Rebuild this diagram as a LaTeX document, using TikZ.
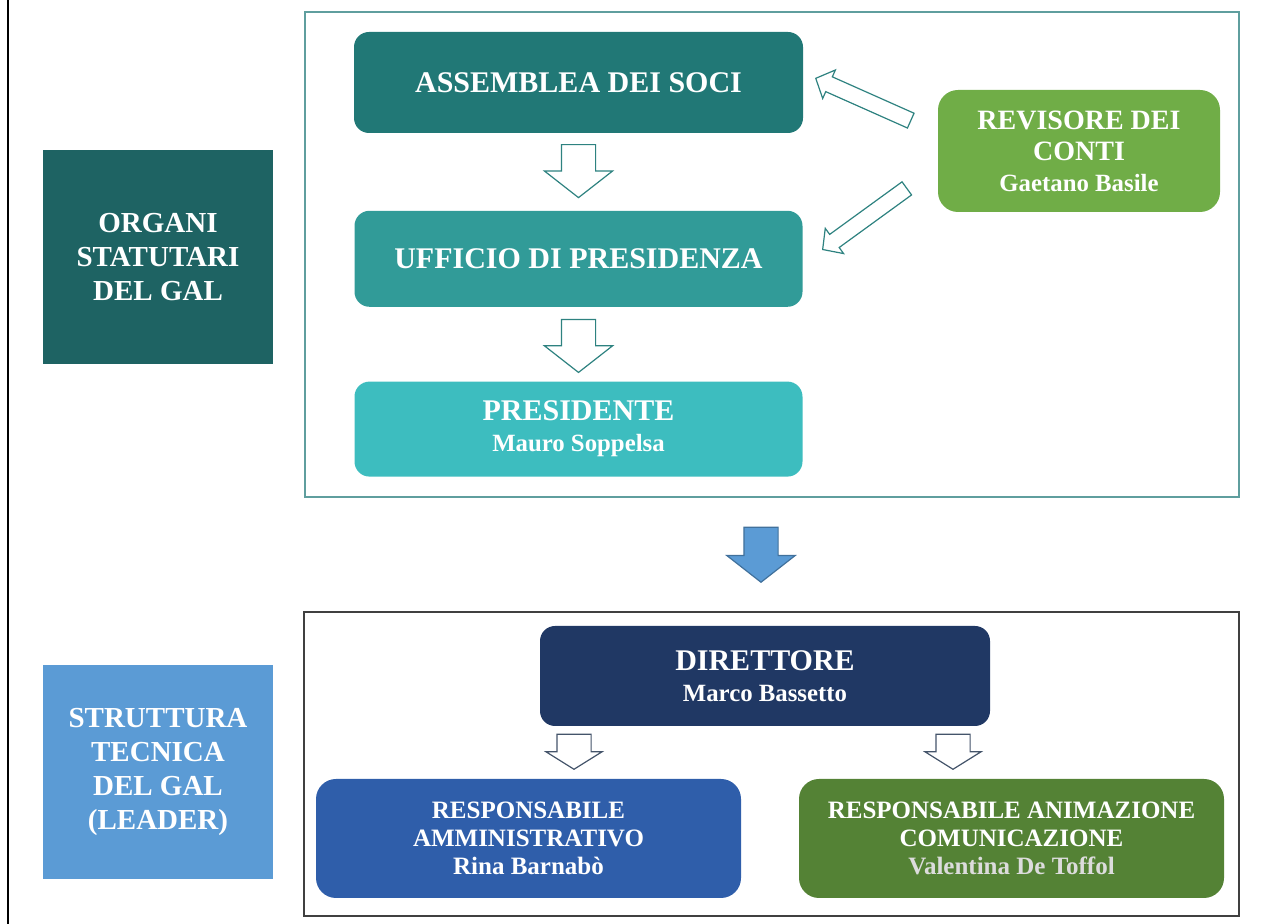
\documentclass[tikz,border=0pt]{standalone}
\usepackage{fontspec}
\setmainfont{Liberation Serif}
\usetikzlibrary{positioning,shapes.arrows,calc}

\definecolor{organi}{HTML}{1E6363}
\definecolor{struttura}{HTML}{5B9BD5}
\definecolor{assemblea}{HTML}{217876}
\definecolor{ufficio}{HTML}{319B98}
\definecolor{presidente}{HTML}{3DBDBF}
\definecolor{revisore}{HTML}{70AD47}
\definecolor{direttore}{HTML}{203864}
\definecolor{ammin}{HTML}{2F5EAA}
\definecolor{animaz}{HTML}{548235}
\definecolor{tealline}{HTML}{5F9E9E}
\definecolor{tealarrow}{HTML}{2E8280}
\definecolor{slate}{HTML}{44546A}
\definecolor{bluedark}{HTML}{41719C}
\definecolor{softgrey}{HTML}{DCDCDC}

\begin{document}
\begin{tikzpicture}[x=0.5pt,y=-0.5pt,node distance=38.5pt,
    box/.style={rounded corners=7.5pt,text=white,align=center,inner sep=2pt,
      font=\fontsize{12.4}{15.5}\selectfont\bfseries},
    sidebox/.style={text=white,align=center,minimum width=115pt,minimum height=107pt,
      font=\fontsize{14.5}{17}\selectfont\bfseries},
    respbox/.style={box,rounded corners=10pt,minimum width=212.5pt,minimum height=59.5pt,
      font=\fontsize{12.5}{14}\selectfont\bfseries},
    hollow/.style={single arrow,draw=tealarrow,fill=white,line width=0.6pt,
      inner xsep=0pt,inner ysep=8.25pt,minimum height=26.5pt,anchor=tip,
      single arrow head extend=8.5pt,single arrow tip angle=104},
    slim/.style={hollow,minimum height=52pt,inner ysep=3.75pt,
      single arrow head extend=3.75pt,single arrow tip angle=94},
    small/.style={hollow,draw=slate,minimum height=17.5pt,inner ysep=8.25pt,
      single arrow head extend=5.5pt,single arrow tip angle=116}]

\useasboundingbox (0,0) rectangle (1266,924);

% frames
\draw [black,line width=1.2pt] (8,0) -- (8,924);
\draw [tealline,line width=1pt] (305,12) rectangle (1239,497);
\draw [black!75,line width=1pt] (304,612) rectangle (1239,916);

% left labels
\node [sidebox,fill=organi] (organi) at (158,257) {ORGANI\\STATUTARI\\DEL GAL};
\node [sidebox,fill=struttura] (struttura) at (158,772)
    {STRUTTURA\\TECNICA\\DEL GAL\\(LEADER)};

% statutory bodies
\node [box,fill=assemblea,minimum width=224.5pt,minimum height=50.5pt] (assemblea)
    at (578.5,82.5) {\fontsize{15}{18}\selectfont ASSEMBLEA DEI SOCI};
\node [box,fill=ufficio,minimum width=224pt,minimum height=48pt] (ufficio)
    [below=of assemblea] {\fontsize{15}{18}\selectfont UFFICIO DI PRESIDENZA};
\node [box,fill=presidente,minimum width=224pt,minimum height=47.5pt] (presidente)
    [below=37pt of ufficio] {{\fontsize{15}{18}\selectfont PRESIDENTE}\\Mauro Soppelsa};
\node [box,fill=revisore,rounded corners=10pt,minimum width=141pt,minimum height=61pt,
    font=\fontsize{14}{15.5}\selectfont\bfseries] (revisore)
    at (1079,151) {REVISORE DEI\\CONTI\\{\fontsize{12.4}{15.5}\selectfont Gaetano Basile}};

\node [hollow,rotate=-90] (ass-uff) at ($(ufficio.north)+(0,-12)$) {};
\node [hollow,rotate=-90] (uff-pre) at ($(presidente.north)+(0,-8)$) {};
\node [slim,rotate=156] (rev-ass) at (815,78) {};
\node [slim,rotate=216] (rev-uff) at (822,250) {};

\node [hollow,rotate=-90,draw=bluedark,fill=struttura,minimum height=27.5pt] (flow)
    at (761,583) {};

% technical staff
\node [box,fill=direttore,minimum width=225pt,minimum height=50pt] (direttore)
    at (765,676) {{\fontsize{15}{18}\selectfont DIRETTORE}\\Marco Bassetto};
\node [respbox,fill=ammin] (ammin) at (528.5,838.5)
    {RESPONSABILE\\AMMINISTRATIVO\\Rina Barnabò};
\node [respbox,fill=animaz] (animaz) at (1011.5,838.5)
    {RESPONSABILE ANIMAZIONE\\COMUNICAZIONE\\\textcolor{softgrey}{Valentina De Toffol}};

\node [small,rotate=-90] (dir-amm) at (574,770) {};
\node [small,rotate=-90] (dir-ani) at (953,770) {};

\end{tikzpicture}
\end{document}
